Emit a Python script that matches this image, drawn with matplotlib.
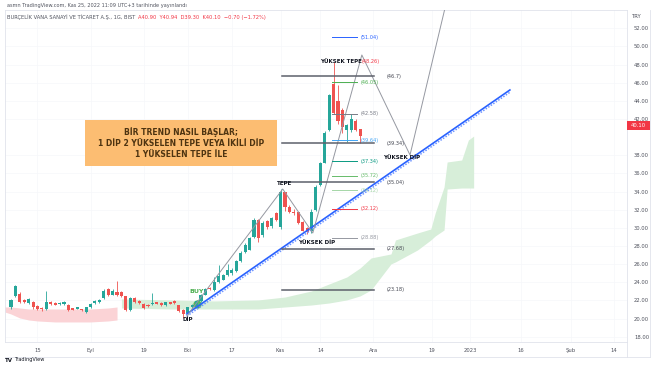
import numpy as np
import matplotlib.pyplot as plt
from matplotlib.patches import Rectangle

# bar index 0 = 15 Ağustos 2022 (günlük mumlar, hafta sonu yok)
bar_idx = list(range(-6, 74))
opens = [21.24, 22.50, 22.70, 22.08, 21.70, 21.79, 21.35, 21.20, 21.05, 21.79,
         21.71, 21.60, 21.60, 21.53, 21.13, 21.05, 21.05, 20.72, 21.24, 21.71,
         21.82, 22.26, 23.25, 22.63, 22.96, 22.89, 22.45, 20.91, 22.26, 21.90,
         21.60, 21.53, 21.60, 21.79, 21.71, 21.46, 21.79, 21.90, 21.46, 20.91,
         20.61, 21.24, 21.35, 21.90, 22.63, 23.36, 23.10, 24.00, 24.30, 24.83,
         25.00, 25.20, 26.30, 27.30, 27.60, 29.00, 30.90, 29.20, 30.70, 30.20,
         31.60, 30.10, 33.90, 32.30, 31.80, 31.70, 30.60, 30.00, 29.60, 32.00,
         34.70, 37.20, 40.80, 45.90, 44.00, 43.00, 40.80, 40.80, 41.80, 40.90]
highs = [22.20, 23.75, 22.90, 22.20, 22.30, 21.90, 21.50, 21.30, 23.07, 21.90,
         21.80, 21.80, 21.90, 21.60, 21.20, 21.30, 21.10, 21.30, 21.70, 22.00,
         22.10, 23.20, 23.40, 23.20, 24.10, 23.00, 22.50, 22.40, 22.35, 22.00,
         21.70, 21.60, 22.80, 21.85, 21.80, 21.85, 21.85, 22.00, 21.50, 21.00,
         21.30, 21.60, 22.00, 22.70, 23.40, 23.45, 24.60, 25.90, 24.90, 26.00,
         25.60, 26.40, 27.40, 28.30, 29.00, 31.10, 31.00, 30.70, 30.90, 31.20,
         31.80, 34.30, 34.00, 32.50, 32.10, 31.80, 30.70, 30.10, 32.10, 34.70,
         37.30, 40.70, 44.80, 48.26, 45.70, 43.20, 41.50, 42.58, 42.00, 40.94]
lows = [21.10, 22.40, 21.70, 21.70, 21.60, 21.10, 20.90, 20.80, 20.95, 21.50,
        21.45, 21.50, 21.50, 20.85, 20.90, 21.00, 20.85, 20.65, 21.20, 21.60,
        21.75, 22.20, 22.50, 22.55, 22.50, 22.40, 20.80, 20.85, 21.75, 21.60,
        21.05, 21.30, 21.50, 21.55, 21.40, 21.40, 21.55, 21.60, 20.70, 20.10,
        20.50, 21.20, 21.30, 21.85, 22.55, 23.10, 23.00, 23.90, 24.20, 24.70,
        24.80, 25.10, 26.20, 27.20, 27.50, 28.90, 28.40, 29.00, 29.90, 30.00,
        30.80, 29.90, 31.90, 31.60, 31.40, 30.40, 29.60, 29.30, 29.40, 31.90,
        34.60, 37.10, 40.70, 42.50, 41.50, 40.50, 39.50, 40.60, 40.70, 39.30]
closes = [22.01, 23.55, 21.80, 21.80, 22.10, 21.27, 21.05, 21.05, 21.79, 21.60,
          21.53, 21.71, 21.79, 20.91, 20.98, 21.24, 20.91, 21.24, 21.60, 21.90,
          22.01, 23.07, 22.63, 23.00, 22.56, 22.45, 20.91, 22.26, 21.82, 21.71,
          21.13, 21.35, 21.71, 21.64, 21.46, 21.79, 21.64, 21.71, 20.80, 20.54,
          21.24, 21.53, 21.90, 22.63, 23.29, 23.20, 23.99, 24.70, 24.83, 25.30,
          25.40, 26.30, 27.20, 28.10, 28.90, 30.90, 28.90, 30.50, 30.10, 31.10,
          30.90, 33.95, 32.30, 31.80, 31.60, 30.50, 29.70, 29.50, 31.80, 34.50,
          37.10, 40.50, 44.60, 42.70, 41.80, 41.10, 41.30, 42.00, 40.80, 40.10]

# ichimoku bulutu (kırmızı kısım)
red_cloud_i = [-7.4, -6, -4, -2, 0, 4, 8, 12, 16, 18]
red_cloud_top = [21.27, 21.27, 21.16, 21.05, 21.05, 21.05, 21.05, 21.05, 21.16, 21.27]
red_cloud_bot = [20.72, 20.50, 20.06, 19.84, 19.73, 19.62, 19.62, 19.62, 19.73, 19.84]
# ichimoku bulutu (yeşil kısım)
green_cloud_i = [19, 30, 40, 50, 56, 62, 66, 70, 73, 75.5, 80, 81, 86, 89, 90, 92, 92.7, 96, 97.5, 98.7]
green_cloud_top = [22.16, 22.05, 21.94, 22.05, 22.37, 23.04, 23.81, 24.58, 25.57, 26.68,
                   27.12, 28.66, 29.43, 29.87, 31.64, 34.50, 37.26, 37.48, 39.68, 40.12]
green_cloud_bot = [21.16, 21.05, 21.05, 21.05, 21.27, 21.49, 21.71, 22.05, 22.49, 23.15,
                   26.02, 26.24, 27.56, 28.66, 29.10, 29.76, 34.28, 34.39, 34.39, 34.39]

tick_pos = [0, 12, 24, 34, 44, 55, 64, 76, 89.3, 97.9, 109.4, 120.7, 130.5]
tick_lab = ["15", "Eyl", "19", "Eki", "17", "Kas", "14", "Ara", "19", "2023", "16", "Şub", "14"]
price_ticks = [18, 20, 22, 24, 26, 28, 30, 32, 34, 36, 38, 42, 44, 46, 48, 50, 52]

# zigzag: DİP, TEPE, YÜKSEK DİP, YÜKSEK TEPE, YÜKSEK DİP, yukarı
zz_i = [33.8, 55.5, 62.3, 73.4, 84.3, 92.2]
zz_p = [20.28, 34.28, 29.43, 49.06, 38.03, 54.2]

trend_i = [33.8, 106.9]
trend_p = [20.51, 45.2]

fibA = [46.7, 39.34, 35.04, 27.68, 23.18]
fibA_lab = ["(46.7)", "(39.34)", "(35.04)", "(27.68)", "(23.18)"]
fibB = [51.04, 46.05, 42.58, 39.64, 37.34, 35.72, 34.12, 32.12, 28.88]
fibB_col = ['#2962ff', '#4caf50', '#787b86', '#42a5f5', '#089981', '#66bb6a', '#a5d6a7', '#f23645', '#9598a1']

W, H = 654, 366
fig = plt.figure(figsize=(6.54, 3.66), dpi=100)
ax = fig.add_axes([5 / W, 1 - 342 / H, 622 / W, 332 / H])
ax.set_xlim(-7.35, 133.4)
ax.set_ylim(17.41, 54.02)

# bulut
ax.fill_between(red_cloud_i, red_cloud_bot, red_cloud_top, color='#fbd3d6', lw=0, zorder=1)
ax.fill_between(green_cloud_i, green_cloud_bot, green_cloud_top, color='#d7eed9', lw=0, zorder=1)

# mumlar
o = np.array(opens); h = np.array(highs); l = np.array(lows); c = np.array(closes)
cols = ['#26a69a' if cc >= oo else '#ef5350' for oo, cc in zip(o, c)]
ax.vlines(bar_idx, l, h, colors=cols, lw=0.6, zorder=3)
ax.bar(bar_idx, np.maximum(np.abs(c - o), 0.08), bottom=np.minimum(o, c), width=0.7,
       color=cols, lw=0, zorder=3)

# BUY
ax.text(36.1, 22.95, "BUY", color='#4caf50', fontsize=4.5, fontweight='bold', ha='center', va='center', zorder=2)
ax.plot([36.1], [21.63], 'o', ms=5, color='#4caf50', alpha=0.85, zorder=2)

# trend çizgisi
ax.plot(trend_i, trend_p, color='#2962ff', lw=1.2, zorder=4)
ax.plot(trend_i, [p - 0.25 for p in trend_p], color='#6f95ff', lw=1.1, ls=(0, (1, 1)), zorder=4)

# zigzag
ax.plot(zz_i, zz_p, color='#9598a1', lw=0.7, zorder=4)

# fib seviyeleri
for lv, txt in zip(fibA, fibA_lab):
    ax.plot([55.3, 76.1], [lv, lv], color='#5d606b', lw=1.1, zorder=4)
    ax.text(79.1, lv, txt, fontsize=3.6, color='#434651', ha='left', va='center', zorder=5)
for lv, col in zip(fibB, fibB_col):
    ax.plot([66.6, 72.3], [lv, lv], color=col, lw=0.7, zorder=4)
    ax.text(73.2, lv, "(%.2f)" % lv, fontsize=3.6, color=col, ha='left', va='center', zorder=5)

# etiketler
lab = dict(fontsize=4, fontweight='bold', color='#131722', zorder=5, va='center')
ax.text(34.1, 19.86, "DİP", ha='center', **lab)
ax.text(56.0, 34.94, "TEPE", ha='center', **lab)
ax.text(63.2, 28.33, "YÜKSEK DİP", ha='center', **lab)
ax.text(73.3, 48.39, "YÜKSEK TEPE", ha='right', **lab)
ax.text(73.3, 48.39, "(48.26)", ha='left', va='center', fontsize=3.6, color='#f23645', zorder=5)
ax.text(82.5, 37.81, "YÜKSEK DİP", ha='center', **lab)

# turuncu kutu
ax.add_patch(Rectangle((10.7, 36.82), 43.5, 5.07, color='#fcbd72', lw=0, zorder=6))
ax.text(32.45, 39.35, "BİR TREND NASIL BAŞLAR;\n1 DİP 2 YÜKSELEN TEPE VEYA İKİLİ DİP\n1 YÜKSELEN TEPE İLE",
        ha='center', va='center', fontsize=5.5, fontweight='bold', color='#4e3411',
        linespacing=1.3, zorder=7)

# eksenler
ax.yaxis.tick_right()
ax.set_yticks(price_ticks)
ax.set_yticklabels(["%.2f" % t for t in price_ticks])
ax.set_xticks(tick_pos)
ax.set_xticklabels(tick_lab)
ax.tick_params(axis='y', length=0, pad=5, labelsize=3.8, labelcolor='#50535e')
ax.tick_params(axis='x', length=0, pad=4, labelsize=3.8, labelcolor='#50535e')
for s in ax.spines.values():
    s.set_color('#e0e3eb')
    s.set_linewidth(0.6)
ax.grid(True, color='#f6f7fa', lw=0.5)
ax.set_axisbelow(True)

# çerçeve
fig.add_artist(plt.Line2D([627 / W, 627 / W], [1 - 342 / H, 1 - 357 / H], color='#e0e3eb', lw=0.6))
fig.add_artist(plt.Line2D([5 / W, 650 / W], [1 - 357 / H, 1 - 357 / H], color='#e0e3eb', lw=0.6))
fig.add_artist(plt.Line2D([650 / W, 650 / W], [1 - 10 / H, 1 - 357 / H], color='#e0e3eb', lw=0.6))

# fiyat etiketi
fig.add_artist(Rectangle((627 / W, 1 - 129.5 / H), 23 / W, 8 / H, color='#f23645', lw=0))
fig.text(638.5 / W, 1 - 125.5 / H, "40.10", color='white', fontsize=3.8, ha='center', va='center')
fig.text(632 / W, 1 - 16 / H, "TRY", color='#50535e', fontsize=3.8, ha='left', va='center')

# başlık
fig.text(7 / W, 1 - 5 / H, "asmn TradingView.com, Kas 25, 2022 11:09 UTC+3 tarihinde yayınlandı",
         fontsize=3.6, color='#50535e', ha='left', va='center')
fig.text(7 / W, 1 - 17 / H, "BURÇELİK VANA SANAYİ VE TİCARET A.Ş., 1G, BIST",
         fontsize=3.7, color='#50535e', ha='left', va='center')
fig.text(138 / W, 1 - 17 / H, "A40.90  Y40.94  D39.30  K40.10  −0.70 (−1.72%)",
         fontsize=3.7, color='#f23645', ha='left', va='center')
fig.text(5 / W, 1 - 360 / H, "TV", fontsize=4, fontweight='bold', color='#131722', ha='left', va='center')
fig.text(14 / W, 1 - 360 / H, "TradingView", fontsize=3.6, color='#131722', ha='left', va='center')

fig.savefig("out.png", dpi=100)
